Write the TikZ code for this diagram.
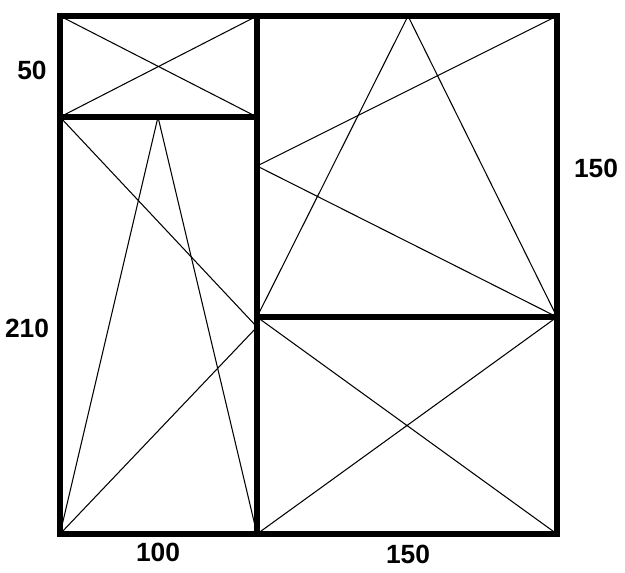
\documentclass[tikz,border=0pt]{standalone}
\usepackage{fontspec}
\setmainfont{Liberation Sans}
\usetikzlibrary{positioning, calc}

\tikzset{
  frame/.style={line width=3.3pt, line cap=rect},
  sash/.style={line width=0.6pt},
  dim/.style={font=\fontsize{15}{18}\selectfont\bfseries}
}

\begin{document}
\begin{tikzpicture}[x=0.02cm, y=-0.02cm]
  \useasboundingbox (0,0) rectangle (625,572);

  % Frame corners
  \coordinate (tl) at (60,16);
  \coordinate (tr) at (557,16);
  \coordinate (bl) at (60,534);
  \coordinate (br) at (557,534);
  \coordinate (mt) at (257,16);
  \coordinate (mb) at (257,534);
  \coordinate (ll) at (60,117);
  \coordinate (lm) at (257,117);
  \coordinate (rm) at (257,317);
  \coordinate (rr) at (557,317);

  % Opening marks
  \coordinate (lapex) at (158,117);
  \coordinate (lside) at (257,327);
  \coordinate (rapex) at (408,16);
  \coordinate (rside) at (257,166);

  % Top-left fixed pane
  \draw[sash] (tl) -- (lm) (ll) -- (mt);
  % Bottom-left pane
  \draw[sash] (bl) -- (lapex) -- (mb);
  \draw[sash] (ll) -- (lside) -- (bl);
  % Top-right pane
  \draw[sash] (rm) -- (rapex) -- (rr);
  \draw[sash] (tr) -- (rside) -- (rr);
  % Bottom-right fixed pane
  \draw[sash] (rm) -- (br) (mb) -- (rr);

  % Frame
  \draw[frame] (tl) rectangle (br);
  \draw[frame] (mt) -- (mb);
  \draw[frame] (ll) -- (lm);
  \draw[frame] (rm) -- (rr);

  % Dimensions
  \node[dim] (h50) at (32,70) {50};
  \node[dim] (h210) at (27,328) {210};
  \node[dim] (h150) at (596,168) {150};
  \node[dim] (w100) at (158,552) {100};
  \node[dim] (w150) at (408,554) {150};
\end{tikzpicture}
\end{document}
